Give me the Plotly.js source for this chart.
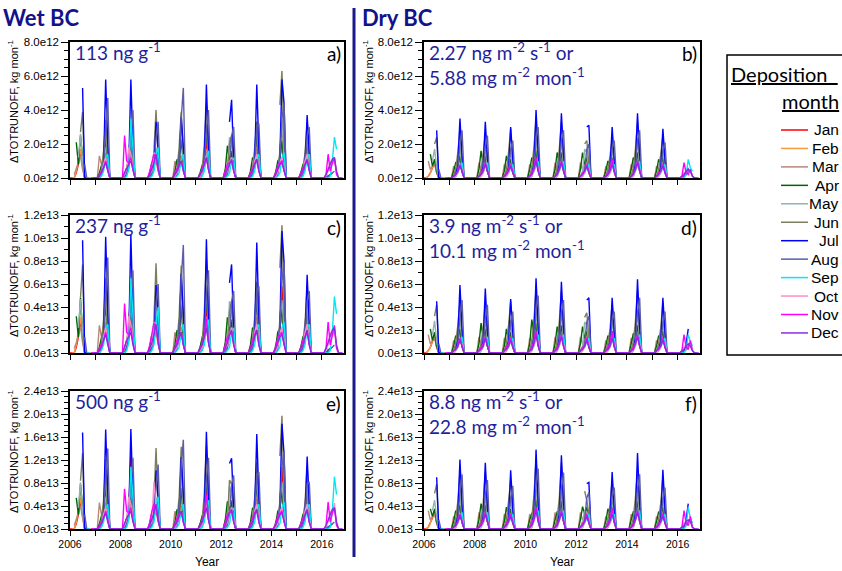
<!DOCTYPE html>
<html><head><meta charset="utf-8">
<script src="https://cdn.plot.ly/plotly-3.0.1.min.js"></script>
<style>html,body{margin:0;padding:0;background:#fff}#chart{width:842px;height:571px}</style>
</head><body><div id="chart"></div>
<script>
const N = null;
const DEPOSITION_MONTHS = ['Jan','Feb','Mar','Apr','May','Jun','Jul','Aug','Sep','Oct','Nov','Dec'];
const MONTH_COLORS = ['#ff0000','#f59a40','#b8877a','#006400','#8fb3b3','#7b7f5c','#0000ff','#5c5ca8','#00e8f0','#ff8cc6','#ff00ff','#8a2be2'];
const FIRST_YEAR = 2006, LAST_YEAR = 2016, LAST_MONTH = 11;
// values listed for these months of each year (Mar..Aug); every other month reads as 0 in the picture
const WINDOW_MONTHS = [3,4,5,6,7,8];
const UNIT = 1e11; // listed values are in 1e11 kg mon-1
const X_TICK_VALS = [2006,2008,2010,2012,2014,2016];
const X_TICK_TEXT = ['2006','2008','2010','2012','2014','2016'];
const Y_TICKS_ROW1 = [0,2e12,4e12,6e12,8e12];
const Y_TEXT_ROW1 = ['0.0e12','2.0e12','4.0e12','6.0e12','8.0e12'];
const Y_TICKS_ROW2 = [0,2e12,4e12,6e12,8e12,10e12,12e12];
const Y_TEXT_ROW2 = ['0.0e13','0.2e13','0.4e13','0.6e13','0.8e13','1.0e13','1.2e13'];
const Y_TICKS_ROW3 = [0,4e12,8e12,12e12,16e12,20e12,24e12];
const Y_TEXT_ROW3 = ['0.0e13','0.4e13','0.8e13','1.2e13','1.6e13','2.0e13','2.4e13'];

// ---- panel a) Wet BC 113 ng g-1 ----
const A_Jan = [0,3,8,15,6,0, 1,5,12,23,8,0, 1,4,11,24,9,0, 0,3,6,12,5,0, 0,4,7,13,5,0, 1,4,11,22,8,0, 1,5,9,16,6,0, 1,5,12,25,9,0, 1,6,14,31,10,0, 1,5,11,22,7,0, N,N,N,N,N,N];
const A_Feb = [0,4,10,17,7,0, 1,5,13,18,7,0, 1,5,12,29,10,0, 0,3,7,11,5,0, 1,4,8,13,6,0, 1,5,14,29,10,0, 1,6,10,15,6,0, 1,5,13,24,9,0, 1,6,13,24,9,0, 1,5,13,24,8,0, N,N,N,N,N,N];
const A_Mar = [2,5,9,13,5,0, 13,8,10,15,6,0, 3,6,9,14,6,0, 2,5,7,10,4,0, 10,7,9,12,5,0, 3,6,10,16,6,0, 5,7,9,14,5,0, 3,7,11,17,6,0, 4,7,12,18,7,0, 3,6,10,15,6,0, N,N,N,N,N,N];
const A_Apr = [N,21,8,25,10,0, 3,8,12,26,9,0, 2,6,10,18,8,0, 3,9,8,13,6,0, 4,11,9,23,8,0, 3,7,12,28,10,0, 5,19,10,15,6,0, 4,12,11,26,9,0, 3,10,12,22,8,0, 3,8,10,27,9,0, 0,N,N,N,N,N];
const A_May = [N,N,12,26,10,0, 1,4,14,30,11,0, 1,3,12,26,10,0, 1,3,10,18,7,0, 1,4,12,30,11,0, 1,3,14,32,12,0, 2,5,24,20,10,0, 1,5,18,33,12,0, 1,4,16,34,12,0, 1,4,14,28,10,0, 0,2,N,N,N,N];
const A_Jun = [N,N,N,27,39,0, 1,5,16,34,14,0, 1,4,14,28,12,0, 1,4,16,40,14,0, 1,5,18,39,15,0, 1,5,20,42,16,0, 1,4,20,25,10,0, 1,5,16,33,13,0, 1,N,43,63,20,0, 1,4,15,33,13,0, 0,1,2,N,N,N];
const A_Jul = [N,N,N,N,53,0, 0,2,8,58,20,0, 0,2,7,58,18,0, 0,2,6,33,14,0, 0,2,8,36,16,0, 0,2,10,55,18,0, 0,N,33,46,10,0, 0,2,10,55,18,0, 0,2,12,58,44,0, 0,2,8,37,14,0, 0,1,2,3,N,N];
const A_Aug = [N,N,N,N,N,8, 0,2,7,30,47,0, 0,2,6,25,40,0, 0,2,6,24,33,0, 0,3,10,35,53,0, 0,2,9,28,40,0, 0,2,8,25,30,0, 0,2,8,30,32,0, 0,3,12,35,44,0, 0,2,8,25,30,0, 0,1,2,3,4,N];
const A_Sep = [N,N,N,N,N,N, 0,1,4,12,14,0, 0,1,5,35,15,0, 0,1,4,14,18,0, 0,1,3,10,14,0, 0,1,4,12,16,0, 0,1,3,10,12,0, 0,1,4,12,14,0, 0,1,3,12,15,0, 0,1,4,12,14,0, 0,0,1,10,24,17];
const A_Oct = [N,N,N,N,N,N, 1,3,8,12,5,0, 2,5,18,14,6,0, 2,4,15,12,5,0, 1,3,7,10,4,0, 1,3,8,13,5,0, 2,4,9,12,5,0, 2,4,10,14,5,0, 1,3,9,12,5,0, 2,4,10,14,5,0, 2,4,10,8,11,3];
const A_Nov = [N,N,N,N,N,N, 2,4,6,10,4,0, 25,10,9,12,5,0, 4,10,14,12,5,0, 3,6,8,10,4,0, 2,5,8,12,5,0, 4,8,9,10,4,0, 3,6,9,11,4,0, 3,7,9,10,4,0, 3,6,8,10,4,0, 2,14,4,9,12,2];
const A_Dec = [N,N,N,N,N,N, 1,3,6,9,4,0, 3,6,8,10,4,0, 2,5,9,14,5,0, 2,4,7,10,4,0, 2,4,8,12,5,0, 2,5,9,11,4,0, 2,4,8,11,4,0, 2,5,8,9,4,0, 2,4,8,11,4,0, 2,5,8,11,12,4];

// ---- panel c) Wet BC 237 ng g-1 ----
const C_Jan = [0,5,14,27,11,0, 2,9,22,41,14,0, 2,7,20,62,16,0, 0,5,11,22,9,0, 0,7,13,50,9,0, 2,7,20,40,14,0, 2,9,16,29,11,0, 2,9,22,50,16,0, 2,11,25,58,18,0, 2,9,20,40,13,0, N,N,N,N,N,N];
const C_Feb = [0,7,18,31,13,0, 2,9,23,32,13,0, 2,9,22,52,18,0, 0,5,13,20,9,0, 2,7,14,23,11,0, 2,9,25,59,18,0, 2,11,18,27,11,0, 2,9,23,43,16,0, 2,11,23,43,16,0, 2,9,23,43,14,0, N,N,N,N,N,N];
const C_Mar = [4,9,16,23,9,0, 24,14,18,27,11,0, 5,11,16,25,11,0, 4,9,13,18,7,0, 18,13,16,22,9,0, 5,11,18,29,11,0, 9,13,16,25,9,0, 5,13,20,31,11,0, 7,13,22,32,13,0, 5,11,18,27,11,0, N,N,N,N,N,N];
const C_Apr = [N,32,14,48,18,0, 5,14,22,47,16,0, 4,11,18,32,14,0, 5,16,14,23,11,0, 7,20,16,41,14,0, 5,13,22,50,18,0, 9,31,18,27,11,0, 7,22,20,47,16,0, 5,18,22,40,14,0, 5,14,18,49,16,0, 0,N,N,N,N,N];
const C_May = [N,N,22,47,18,0, 2,7,25,54,20,0, 2,5,22,47,18,0, 2,5,18,40,13,0, 2,7,22,54,20,0, 2,5,25,58,22,0, 4,9,45,36,18,0, 2,9,32,55,22,0, 2,7,29,46,22,0, 2,7,25,45,18,0, 0,4,N,N,N,N];
const C_Jun = [N,N,N,48,77,0, 2,9,29,65,25,0, 2,7,25,50,22,0, 2,7,29,78,25,0, 2,9,32,76,27,0, 2,9,36,80,29,0, 2,7,36,45,18,0, 2,9,29,62,23,0, 2,N,74,111,36,0, 2,7,27,58,23,0, 0,2,4,N,N,N];
const C_Jul = [N,N,N,N,98,0, 0,4,14,101,36,0, 0,4,13,103,32,0, 0,4,11,59,25,0, 0,4,14,69,29,0, 0,4,18,99,32,0, 0,N,61,77,18,0, 0,4,18,96,32,0, 0,4,22,106,79,0, 0,4,14,68,25,0, 0,2,4,5,N,N];
const C_Aug = [N,N,N,N,N,14, 0,4,13,54,83,0, 0,4,11,45,72,0, 0,4,11,43,60,0, 0,5,18,63,94,0, 0,4,16,50,72,0, 0,4,14,45,54,0, 0,4,14,54,58,0, 0,5,22,63,79,0, 0,4,14,45,54,0, 0,2,4,5,7,N];
const C_Sep = [N,N,N,N,N,N, 0,2,7,22,25,0, 0,2,9,65,27,0, 0,2,7,25,40,0, 0,2,5,18,25,0, 0,2,7,22,29,0, 0,2,5,18,22,0, 0,2,7,22,25,0, 0,2,5,22,27,0, 0,2,7,22,25,0, 0,0,2,18,49,34];
const C_Oct = [N,N,N,N,N,N, 2,5,14,22,9,0, 4,9,32,25,11,0, 4,7,27,22,9,0, 2,5,13,18,7,0, 2,5,14,23,9,0, 4,7,16,22,9,0, 4,7,18,25,9,0, 2,5,16,22,9,0, 4,7,18,25,9,0, 4,7,18,14,20,5];
const C_Nov = [N,N,N,N,N,N, 4,7,11,18,7,0, 43,18,16,22,9,0, 7,18,26,22,9,0, 5,11,14,18,7,0, 4,9,14,30,9,0, 7,14,16,18,7,0, 5,11,16,20,7,0, 5,13,16,18,7,0, 5,11,14,18,7,0, 4,27,7,16,24,4];
const C_Dec = [N,N,N,N,N,N, 2,5,11,16,7,0, 5,11,14,18,7,0, 4,9,16,25,9,0, 4,7,13,18,7,0, 4,7,14,22,9,0, 4,9,16,20,7,0, 4,7,14,20,7,0, 4,9,14,16,7,0, 4,7,14,20,7,0, 4,9,14,20,22,7];

// ---- panel e) Wet BC 500 ng g-1 ----
const E_Jan = [0,9,25,47,19,0, 3,16,37,71,25,0, 3,12,34,127,28,0, 0,9,19,37,16,0, 0,12,22,40,16,0, 3,12,34,68,25,0, 3,16,28,50,19,0, 3,16,37,78,28,0, 3,19,43,108,31,0, 3,16,34,68,22,0, N,N,N,N,N,N];
const E_Feb = [0,12,31,55,22,0, 3,16,40,56,22,0, 3,16,37,90,31,0, 0,9,22,34,16,0, 3,12,25,55,19,0, 3,16,43,110,31,0, 3,19,31,47,19,0, 3,16,40,80,28,0, 3,19,40,74,28,0, 3,16,40,74,25,0, N,N,N,N,N,N];
const E_Mar = [6,16,28,40,16,0, 46,25,31,47,19,0, 9,19,28,43,19,0, 6,16,22,31,12,0, 31,22,28,37,16,0, 9,19,31,50,19,0, 16,22,28,43,16,0, 9,22,34,53,19,0, 12,22,37,56,22,0, 9,19,31,47,19,0, N,N,N,N,N,N];
const E_Apr = [N,54,25,78,31,0, 9,25,37,81,28,0, 6,19,31,56,25,0, 9,28,25,40,19,0, 12,34,28,71,25,0, 9,22,37,87,31,0, 16,48,31,47,19,0, 12,37,34,81,28,0, 9,31,37,68,25,0, 9,25,31,84,28,0, 0,N,N,N,N,N];
const E_May = [N,N,37,81,31,0, 3,12,43,93,34,0, 3,9,37,81,31,0, 3,9,31,56,22,0, 3,12,37,93,34,0, 3,9,43,99,37,0, 6,16,74,62,31,0, 3,16,56,88,37,0, 3,12,50,82,37,0, 3,12,43,82,31,0, 0,6,N,N,N,N];
const E_Jun = [N,N,N,84,132,0, 3,16,50,122,43,0, 3,12,43,87,37,0, 3,12,50,141,43,0, 3,16,56,143,47,0, 3,16,62,145,50,0, 3,12,85,78,31,0, 3,16,50,117,40,0, 3,N,127,197,62,0, 3,12,47,110,40,0, 0,3,6,N,N,N];
const E_Jul = [N,N,N,N,168,0, 0,6,25,173,62,0, 0,6,22,174,56,0, 0,6,19,102,43,0, 0,6,25,125,50,0, 0,6,31,169,56,0, 0,N,114,123,31,0, 0,6,31,165,56,0, 0,6,37,183,130,0, 0,6,25,126,43,0, 0,3,6,9,N,N];
const E_Aug = [N,N,N,N,N,25, 0,6,22,93,140,0, 0,6,19,78,124,0, 0,6,19,74,112,0, 0,9,31,108,155,0, 0,6,28,87,124,0, 0,6,25,78,93,0, 0,6,25,93,99,0, 0,9,37,108,136,0, 0,6,25,78,82,0, 0,3,6,9,12,N];
const E_Sep = [N,N,N,N,N,N, 0,3,12,37,43,0, 0,3,16,108,47,0, 0,3,12,43,56,0, 0,3,9,31,43,0, 0,3,12,37,50,0, 0,3,9,31,37,0, 0,3,12,37,43,0, 0,3,9,37,47,0, 0,3,12,37,43,0, 0,0,3,31,91,60];
const E_Oct = [N,N,N,N,N,N, 3,9,25,37,16,0, 6,16,56,43,19,0, 6,12,82,37,16,0, 3,9,22,31,12,0, 3,9,25,40,16,0, 6,12,28,37,16,0, 6,12,31,43,16,0, 3,9,28,37,16,0, 6,12,31,43,16,0, 6,12,31,25,45,9];
const E_Nov = [N,N,N,N,N,N, 6,12,19,31,12,0, 70,31,28,37,16,0, 12,31,43,37,16,0, 9,19,25,31,12,0, 6,16,25,60,16,0, 12,25,28,31,12,0, 9,19,28,34,12,0, 9,22,28,31,12,0, 9,19,25,31,12,0, 6,47,12,28,37,6];
const E_Dec = [N,N,N,N,N,N, 3,9,19,28,12,0, 9,19,25,31,12,0, 6,16,28,43,16,0, 6,12,22,31,12,0, 6,12,25,37,16,0, 6,16,28,34,12,0, 6,12,25,34,12,0, 6,16,25,28,12,0, 6,12,25,34,12,0, 6,16,25,34,37,12];

// ---- panel b) Dry BC 2.27 ng m-2 s-1 ----
const B_Jan = [1,3,6,9,3,0, 1,4,8,11,4,0, 1,4,8,12,4,0, 1,3,7,9,3,0, 1,4,10,15,5,0, 1,4,9,13,4,0, 1,3,7,10,3,0, 1,3,7,11,4,0, 1,4,9,13,4,0, 1,3,7,10,3,0, N,N,N,N,N,N];
const B_Feb = [1,3,7,10,3,0, 1,4,9,12,4,0, 1,4,9,13,4,0, 1,3,7,10,3,0, 1,5,11,17,5,0, 1,4,10,14,5,0, 1,3,8,11,4,0, 1,3,8,12,4,0, 1,4,10,14,5,0, 1,3,8,11,4,0, N,N,N,N,N,N];
const B_Mar = [10,5,7,9,3,0, 7,5,8,10,3,0, 9,5,8,11,4,0, 8,5,7,9,3,0, 8,6,10,13,4,0, 9,5,9,12,4,0, 9,5,7,10,3,0, 7,5,7,10,3,0, 8,6,9,12,4,0, 7,5,7,10,3,0, N,N,N,N,N,N];
const B_Apr = [N,14,7,11,4,0, 4,9,8,13,4,0, 5,16,8,13,4,0, 4,13,7,11,4,0, 5,12,10,16,5,0, 5,15,9,15,5,0, 5,15,8,12,4,0, 4,10,8,12,4,0, 5,12,9,15,5,0, 4,11,8,12,4,0, 0,N,N,N,N,N];
const B_May = [N,N,10,17,6,0, 1,4,11,18,6,0, 1,4,10,17,6,0, 1,4,9,15,5,0, 1,5,13,23,8,0, 1,5,12,22,7,0, 1,4,17,15,5,0, 1,4,10,18,6,0, 1,5,12,22,7,0, 1,4,10,17,6,0, 0,2,N,N,N,N];
const B_Jun = [N,N,N,20,24,0, 1,5,15,29,9,0, 1,5,14,26,9,0, 1,5,15,29,9,0, 1,6,18,34,11,0, 1,6,17,33,10,0, 1,N,20,22,8,0, 1,5,13,23,8,0, 1,6,17,33,10,0, 1,5,14,25,8,0, 0,1,2,N,N,N];
const B_Jul = [N,N,N,N,28,0, 0,2,7,35,13,0, 0,2,7,33,12,0, 0,2,6,30,11,0, 0,2,8,40,15,0, 0,2,8,38,14,0, 0,N,N,30,31,0, 0,2,6,30,11,0, 0,2,8,38,14,0, 0,2,6,29,11,0, 0,1,3,6,N,N];
const B_Aug = [N,N,N,N,N,5, 0,1,5,20,28,0, 0,1,5,18,25,0, 0,1,4,17,22,0, 0,1,6,23,30,0, 0,1,6,22,28,0, 0,1,5,17,20,0, 0,1,4,17,22,0, 0,1,6,22,28,0, 0,1,4,16,21,0, 0,1,2,4,5,N];
const B_Sep = [N,N,N,N,N,N, 0,1,3,7,9,0, 0,1,3,7,9,0, 0,1,3,6,8,0, 0,1,4,8,10,0, 0,1,4,8,10,0, 0,1,3,6,8,0, 0,1,3,6,8,0, 0,1,4,8,10,0, 0,1,3,6,8,0, 0,0,2,11,6,4];
const B_Oct = [N,N,N,N,N,N, 0,1,3,7,5,0, 0,1,3,7,5,0, 0,1,3,6,4,0, 0,1,4,9,6,0, 0,1,4,8,5,0, 0,1,3,7,5,0, 0,1,3,9,5,0, 0,1,4,8,5,0, 0,1,3,7,5,0, 1,3,4,5,4,1];
const B_Nov = [N,N,N,N,N,N, 1,2,4,8,4,0, 1,3,5,9,4,0, 1,3,5,8,4,0, 1,3,6,12,5,0, 1,3,5,10,4,0, 1,3,4,8,4,0, 1,3,5,11,4,0, 1,3,5,10,4,0, 1,3,4,8,4,0, 1,9,3,2,5,1];
const B_Dec = [N,N,N,N,N,N, 1,2,4,7,4,0, 1,2,4,8,4,0, 1,2,4,7,3,0, 1,2,5,10,4,0, 1,2,5,9,4,0, 1,2,4,7,3,0, 1,2,4,8,4,0, 1,2,5,9,4,0, 1,2,4,7,3,0, 1,2,4,5,4,1];

// ---- panel d) Dry BC 3.9 ng m-2 s-1 ----
const D_Jan = [2,5,10,14,5,0, 2,6,13,18,6,0, 2,6,13,19,6,0, 2,5,11,14,5,0, 2,6,16,24,8,0, 2,6,14,21,6,0, 2,5,11,16,5,0, 2,5,11,18,6,0, 2,6,14,21,6,0, 2,5,11,16,5,0, N,N,N,N,N,N];
const D_Feb = [2,5,11,16,5,0, 2,6,14,19,6,0, 2,6,14,21,6,0, 2,5,11,16,5,0, 2,8,18,27,8,0, 2,6,16,22,8,0, 2,5,13,18,6,0, 2,5,13,19,6,0, 2,6,16,22,8,0, 2,5,13,18,6,0, N,N,N,N,N,N];
const D_Mar = [16,8,11,14,5,0, 11,8,13,16,5,0, 14,8,13,18,6,0, 13,8,11,14,5,0, 13,10,16,21,6,0, 14,8,14,19,6,0, 14,8,11,16,5,0, 11,8,11,16,5,0, 13,10,14,19,6,0, 11,8,11,16,5,0, N,N,N,N,N,N];
const D_Apr = [N,21,11,18,6,0, 6,15,13,21,6,0, 8,26,13,21,6,0, 6,21,11,18,6,0, 8,29,16,26,8,0, 8,23,14,24,8,0, 8,23,13,19,6,0, 6,15,13,19,6,0, 8,17,14,24,8,0, 6,15,13,19,6,0, 0,N,N,N,N,N];
const D_May = [N,N,16,28,10,0, 2,6,18,30,10,0, 2,6,16,28,10,0, 2,6,14,25,8,0, 2,8,21,36,13,0, 2,8,19,35,11,0, 2,6,27,24,8,0, 2,6,16,30,10,0, 2,8,19,35,11,0, 2,6,16,28,10,0, 0,3,N,N,N,N];
const D_Jun = [N,N,N,32,42,0, 2,8,24,45,14,0, 2,8,22,44,14,0, 2,8,24,45,14,0, 2,10,29,55,18,0, 2,10,27,54,16,0, 2,N,31,35,13,0, 2,8,21,43,13,0, 2,10,27,55,16,0, 2,8,22,44,13,0, 0,2,3,N,N,N];
const D_Jul = [N,N,N,N,45,0, 0,3,11,59,21,0, 0,3,11,56,19,0, 0,3,10,47,18,0, 0,3,13,65,24,0, 0,3,13,62,22,0, 0,N,N,46,48,0, 0,3,10,48,18,0, 0,3,13,64,22,0, 0,3,10,48,18,0, 0,2,8,21,N,N];
const D_Aug = [N,N,N,N,N,8, 0,2,8,32,46,0, 0,2,8,29,42,0, 0,2,6,27,36,0, 0,2,10,37,50,0, 0,2,10,35,46,0, 0,2,8,27,32,0, 0,2,6,27,36,0, 0,2,10,35,48,0, 0,2,6,26,36,0, 0,2,3,6,8,N];
const D_Sep = [N,N,N,N,N,N, 0,2,5,11,14,0, 0,2,5,11,14,0, 0,2,5,10,13,0, 0,2,6,13,16,0, 0,2,6,13,16,0, 0,2,5,10,13,0, 0,2,5,10,13,0, 0,2,6,13,16,0, 0,2,5,10,13,0, 0,0,3,16,10,6];
const D_Oct = [N,N,N,N,N,N, 0,2,5,11,8,0, 0,2,5,11,8,0, 0,2,5,10,6,0, 0,2,6,14,10,0, 0,2,6,13,8,0, 0,2,5,11,8,0, 0,2,5,14,8,0, 0,2,6,13,8,0, 0,2,5,11,8,0, 2,5,6,8,6,2];
const D_Nov = [N,N,N,N,N,N, 2,3,6,13,6,0, 2,5,8,14,6,0, 2,5,8,13,6,0, 2,5,10,19,8,0, 2,5,8,16,6,0, 2,5,6,13,6,0, 2,5,8,18,6,0, 2,5,8,16,6,0, 2,5,6,13,6,0, 2,16,5,3,11,2];
const D_Dec = [N,N,N,N,N,N, 2,3,6,11,6,0, 2,3,6,13,6,0, 2,3,6,11,5,0, 2,3,8,16,6,0, 2,3,8,14,6,0, 2,3,6,11,5,0, 2,3,6,13,6,0, 2,3,8,14,6,0, 2,3,6,11,5,0, 2,3,6,8,6,2];

// ---- panel f) Dry BC 8.8 ng m-2 s-1 ----
const F_Jan = [3,10,19,29,10,0, 3,13,26,35,13,0, 3,13,26,38,13,0, 3,10,22,29,10,0, 3,13,32,48,16,0, 3,13,29,42,13,0, 3,10,22,32,10,0, 3,10,22,35,13,0, 3,13,29,42,13,0, 3,10,22,32,10,0, N,N,N,N,N,N];
const F_Feb = [3,10,22,32,10,0, 3,13,29,38,13,0, 3,13,29,42,13,0, 3,10,22,32,10,0, 3,16,35,54,16,0, 3,13,32,60,16,0, 3,10,26,35,13,0, 3,10,26,38,13,0, 3,13,32,45,16,0, 3,10,26,35,13,0, N,N,N,N,N,N];
const F_Mar = [32,16,22,29,10,0, 22,16,26,32,10,0, 29,16,26,35,13,0, 26,16,22,29,10,0, 26,19,32,42,13,0, 29,16,29,38,13,0, 29,16,22,32,10,0, 22,16,22,32,10,0, 26,19,29,38,13,0, 22,16,22,32,10,0, N,N,N,N,N,N];
const F_Apr = [N,35,22,35,13,0, 13,32,26,42,13,0, 16,44,26,42,13,0, 13,38,22,35,13,0, 16,27,32,51,16,0, 16,30,29,48,16,0, 16,39,26,38,13,0, 13,35,26,38,13,0, 16,30,29,48,16,0, 13,30,26,38,13,0, 0,N,N,N,N,N];
const F_May = [N,N,32,50,19,0, 3,13,35,60,19,0, 3,13,32,55,19,0, 3,13,29,50,16,0, 3,16,42,70,26,0, 3,16,38,65,22,0, 3,13,32,30,16,0, 3,13,32,50,19,0, 3,16,38,60,22,0, 3,13,32,55,19,0, 0,6,N,N,N,N];
const F_Jun = [N,N,N,62,78,0, 3,16,48,100,29,0, 3,16,45,100,29,0, 3,16,48,85,29,0, 3,19,58,120,35,0, 3,19,54,115,32,0, 3,N,66,50,26,0, 3,16,42,85,26,0, 3,19,54,103,32,0, 3,16,45,90,26,0, 0,3,6,N,N,N];
const F_Jul = [N,N,N,N,90,0, 0,6,22,121,42,0, 0,6,22,115,38,0, 0,6,19,102,35,0, 0,6,26,138,48,0, 0,6,26,128,45,0, 0,N,N,79,81,0, 0,6,19,99,35,0, 0,6,26,132,45,0, 0,6,19,103,35,0, 0,3,16,44,N,N];
const F_Aug = [N,N,N,N,N,16, 0,3,16,64,95,0, 0,3,16,58,85,0, 0,3,13,54,75,0, 0,3,19,74,105,0, 0,3,19,70,98,0, 0,3,16,54,64,0, 0,3,13,54,72,0, 0,3,19,70,95,0, 0,3,13,51,72,0, 0,3,6,13,16,N];
const F_Sep = [N,N,N,N,N,N, 0,3,10,22,29,0, 0,3,10,22,29,0, 0,3,10,19,26,0, 0,3,13,26,32,0, 0,3,13,26,32,0, 0,3,10,19,26,0, 0,3,10,19,26,0, 0,3,13,26,32,0, 0,3,10,19,26,0, 0,0,6,38,19,10];
const F_Oct = [N,N,N,N,N,N, 0,3,10,22,16,0, 0,3,10,22,16,0, 0,3,10,19,13,0, 0,3,13,29,19,0, 0,3,13,26,16,0, 0,3,10,22,16,0, 0,3,10,29,16,0, 0,3,13,26,16,0, 0,3,10,22,16,0, 3,10,13,16,13,3];
const F_Nov = [N,N,N,N,N,N, 3,6,13,26,13,0, 3,10,16,29,13,0, 3,10,16,26,13,0, 3,10,19,38,16,0, 3,10,16,32,13,0, 3,10,13,26,13,0, 3,10,16,35,13,0, 3,10,16,32,13,0, 3,10,13,26,13,0, 3,32,10,6,22,3];
const F_Dec = [N,N,N,N,N,N, 3,6,13,22,13,0, 3,6,13,26,13,0, 3,6,13,22,10,0, 3,6,16,32,13,0, 3,6,16,29,13,0, 3,6,13,22,10,0, 3,6,13,26,13,0, 3,6,16,29,13,0, 3,6,13,22,10,0, 3,6,13,16,13,3];

// ---------------- layout helpers ----------------
const W = 842, H = 571;
const px = v => v / W;
const py = v => 1 - v / H;
const COL_X = [[70,344],[424,700]];
const ROW_Y = [[42,178],[215,353],[391,529]];

const PANELS = [
  {letter:'a)', col:0, row:0, series:[A_Jan,A_Feb,A_Mar,A_Apr,A_May,A_Jun,A_Jul,A_Aug,A_Sep,A_Oct,A_Nov,A_Dec], label:'113 ng g<sup>-1</sup>'},
  {letter:'b)', col:1, row:0, series:[B_Jan,B_Feb,B_Mar,B_Apr,B_May,B_Jun,B_Jul,B_Aug,B_Sep,B_Oct,B_Nov,B_Dec], label:'2.27 ng m<sup>-2</sup> s<sup>-1</sup> or<br>5.88 mg m<sup>-2</sup> mon<sup>-1</sup>'},
  {letter:'c)', col:0, row:1, series:[C_Jan,C_Feb,C_Mar,C_Apr,C_May,C_Jun,C_Jul,C_Aug,C_Sep,C_Oct,C_Nov,C_Dec], label:'237 ng g<sup>-1</sup>'},
  {letter:'d)', col:1, row:1, series:[D_Jan,D_Feb,D_Mar,D_Apr,D_May,D_Jun,D_Jul,D_Aug,D_Sep,D_Oct,D_Nov,D_Dec], label:'3.9 ng m<sup>-2</sup> s<sup>-1</sup> or<br>10.1 mg m<sup>-2</sup> mon<sup>-1</sup>'},
  {letter:'e)', col:0, row:2, series:[E_Jan,E_Feb,E_Mar,E_Apr,E_May,E_Jun,E_Jul,E_Aug,E_Sep,E_Oct,E_Nov,E_Dec], label:'500 ng g<sup>-1</sup>'},
  {letter:'f)', col:1, row:2, series:[F_Jan,F_Feb,F_Mar,F_Apr,F_May,F_Jun,F_Jul,F_Aug,F_Sep,F_Oct,F_Nov,F_Dec], label:'8.8 ng m<sup>-2</sup> s<sup>-1</sup> or<br>22.8 mg m<sup>-2</sup> mon<sup>-1</sup>'}
];
const ROW_TICKS = [
  {vals:Y_TICKS_ROW1, text:Y_TEXT_ROW1, max:8e12, minor:0.5e12},
  {vals:Y_TICKS_ROW2, text:Y_TEXT_ROW2, max:12e12, minor:1e12},
  {vals:Y_TICKS_ROW3, text:Y_TEXT_ROW3, max:24e12, minor:1e12}
];

// expand listed Mar..Aug values into a monthly series for deposition month k (1..12);
// each run covers 120 months starting in its deposition month of 2006
function expand(vals, k) {
  const x = [], y = [];
  const start = k - 1, end = 120 + k - 2;
  for (let yr = FIRST_YEAR; yr <= LAST_YEAR; yr++) {
    for (let m = 1; m <= 12; m++) {
      if (yr === LAST_YEAR && m > LAST_MONTH) break;
      const idx = (yr - FIRST_YEAR) * 12 + (m - 1);
      x.push(yr + (m - 1) / 12);
      let v = null;
      if (idx >= start && idx <= end) {
        const w = WINDOW_MONTHS.indexOf(m);
        const raw = w >= 0 ? vals[(yr - FIRST_YEAR) * WINDOW_MONTHS.length + w] : 0;
        v = raw === null ? null : raw * UNIT;
      }
      y.push(v);
    }
  }
  return {x, y};
}

const FONT = 'Liberation Sans, Arial, sans-serif';
const LABEL_FONT = 'Lato, Open Sans, sans-serif';
const traces = [];
const layout = {
  width: W, height: H,
  margin: {l:0, r:0, t:0, b:0},
  paper_bgcolor: '#fff', plot_bgcolor: '#fff',
  font: {family: FONT, color: '#000'},
  showlegend: false,
  annotations: [], shapes: []
};

PANELS.forEach((p, pi) => {
  const n = pi + 1;
  const xa = n === 1 ? 'x' : 'x' + n, ya = n === 1 ? 'y' : 'y' + n;
  const xk = n === 1 ? 'xaxis' : 'xaxis' + n, yk = n === 1 ? 'yaxis' : 'yaxis' + n;
  const [L, R] = COL_X[p.col];
  const [T, B] = ROW_Y[p.row];
  const rt = ROW_TICKS[p.row];
  p.series.forEach((vals, k) => {
    const s = expand(vals, k + 1);
    traces.push({type:'scatter', mode:'lines', x:s.x, y:s.y, xaxis:xa, yaxis:ya,
      name: DEPOSITION_MONTHS[k], legendgroup: DEPOSITION_MONTHS[k], showlegend:false,
      connectgaps:false, line:{color: MONTH_COLORS[k], width:1.4}});
  });
  layout[xk] = {domain:[px(L), px(R)], anchor: ya, range:[2006, 2016.88], tickmode:'array',
    tickvals: X_TICK_VALS, ticktext: X_TICK_TEXT, showticklabels: p.row === 2,
    ticks:'outside', ticklen:5, tickwidth:1.3, tickcolor:'#000',
    minor:{tickmode:'linear', tick0:2006, dtick:1, ticks:'outside', ticklen:5, tickwidth:1.3, tickcolor:'#000'},
    showline:true, mirror:true,
    linecolor:'#000', linewidth:1.5, showgrid:false, zeroline:false,
    tickfont:{family:FONT, size:10.5, color:'#000'}};
  layout[yk] = {domain:[py(B), py(T)], anchor: xa, range:[0, rt.max], tickmode:'array',
    tickvals: rt.vals, ticktext: rt.text, ticks:'outside', ticklen:7, tickwidth:1.2, tickcolor:'#000',
    minor:{tickmode:'linear', tick0:0, dtick: rt.minor, ticks:'outside', ticklen:4, tickwidth:1, tickcolor:'#000'},
    showline:true, mirror:true, linecolor:'#000', linewidth:1.5, showgrid:false, zeroline:false,
    tickfont:{family:FONT, size:11.5, color:'#000'}};
  // inner label
  layout.annotations.push({xref:'paper', yref:'paper', x:px(L + 3), y:py(T - 5), xanchor:'left', yanchor:'top',
    text:p.label, showarrow:false, align:'left', font:{family:LABEL_FONT, size:19, color:'#1f1f9e'}});
  layout.annotations.push({xref:'paper', yref:'paper', x:px(R - 1), y:py(T + 12), xanchor:'right', yanchor:'middle',
    text:p.letter, showarrow:false, font:{family:LABEL_FONT, size:19, color:'#000'}});
  // y-axis title
  layout.annotations.push({xref:'paper', yref:'paper', x:px(p.col === 0 ? 13 : 368), y:py((T + B) / 2 - 8),
    xanchor:'center', yanchor:'middle', textangle:-90, showarrow:false,
    text:'ΔTOTRUNOFF, kg mon<sup>-1</sup>', font:{family:FONT, size:11, color:'#000'}});
  if (p.row === 2) {
    layout.annotations.push({xref:'paper', yref:'paper', x:px((L + R) / 2), y:py(562), xanchor:'center', yanchor:'middle',
      text:'Year', showarrow:false, font:{family:FONT, size:12, color:'#000'}});
  }
});

// column headings
layout.annotations.push({xref:'paper', yref:'paper', x:px(1), y:py(18), xanchor:'left', yanchor:'middle',
  text:'<b>Wet BC</b>', showarrow:false, font:{family:LABEL_FONT, size:22, color:'#12128a'}});
layout.annotations.push({xref:'paper', yref:'paper', x:px(360), y:py(18), xanchor:'left', yanchor:'middle',
  text:'<b>Dry BC</b>', showarrow:false, font:{family:LABEL_FONT, size:22, color:'#12128a'}});

// legend (key): heading, samples and month names
layout.annotations.push({xref:'paper', yref:'paper', x:px(729), y:py(74), xanchor:'left', yanchor:'middle',
  text:'<u>Deposition\u00a0\u00a0</u>', showarrow:false, font:{family:LABEL_FONT, size:20, color:'#000'}});
layout.annotations.push({xref:'paper', yref:'paper', x:px(841), y:py(101), xanchor:'right', yanchor:'middle',
  text:'<u>month</u>', showarrow:false, font:{family:LABEL_FONT, size:20, color:'#000'}});
DEPOSITION_MONTHS.forEach((name, k) => {
  const yy = 130 + k * 18.45;
  layout.shapes.push({type:'line', xref:'paper', yref:'paper', x0:px(781), x1:px(808), y0:py(yy), y1:py(yy),
    line:{color: MONTH_COLORS[k], width:1.5}});
  layout.annotations.push({xref:'paper', yref:'paper', x:px(841), y:py(yy), xanchor:'right', yanchor:'middle',
    text:name, showarrow:false, font:{family:FONT, size:15.5, color:'#000'}});
});

// divider and legend frame
layout.shapes.push({type:'line', xref:'paper', yref:'paper', x0:px(354), x1:px(354), y0:py(557), y1:py(8),
  line:{color:'#1a1a8c', width:3}});
layout.shapes.push({type:'rect', xref:'paper', yref:'paper', x0:px(727), x1:px(852), y0:py(355), y1:py(55),
  line:{color:'#000', width:1.5}, fillcolor:'rgba(0,0,0,0)'});

Plotly.newPlot('chart', traces, layout, {displayModeBar:false, responsive:false});
</script>
</body></html>
